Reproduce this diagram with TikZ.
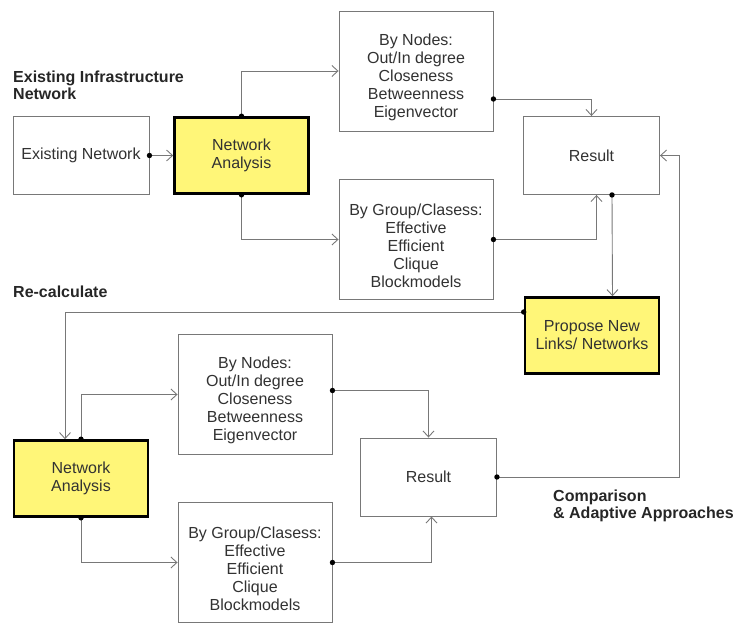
\documentclass[tikz,border=0pt]{standalone}
\usepackage{fontspec}
\setmainfont{Liberation Sans}
\usepackage{xcolor}
\usetikzlibrary{arrows.meta,positioning}
\definecolor{linegray}{RGB}{120,120,120}
\definecolor{textgray}{RGB}{50,50,50}
\definecolor{boxyellow}{RGB}{255,246,120}
\newcommand{\toppad}{\rule{0pt}{24pt}}

\begin{document}
\begin{tikzpicture}[x=1pt,y=-1pt,
    >={Straight Barb[length=6pt,width=11pt]},
    every node/.style={inner sep=0pt,font=\fontsize{16}{18}\selectfont,text=textgray,align=center},
    plainbox/.style={draw=linegray,line width=0.9pt,fill=white},
    smallbox/.style={plainbox,minimum width=136pt,minimum height=78pt},
    listbox/.style={plainbox,minimum width=154pt,minimum height=120pt},
    keybox/.style={draw=black,line width=2.6pt,fill=boxyellow,minimum width=134pt,minimum height=76pt},
    link/.style={draw=linegray,line width=0.9pt,->},
    heading/.style={font=\fontsize{16}{17}\selectfont\bfseries,text=black!85,align=left,anchor=base west}]
    \useasboundingbox (0,0) rectangle (734,624);
    % upper row
    \node [smallbox] (exist) at (81,155.5) {Existing Network};
    \node [keybox] (na1) at (241.5,155.5) {Network\\Analysis};
    \node [listbox] (nodes1) at (416,71) {\toppad By Nodes:\\Out/In degree\\Closeness\\Betweenness\\Eigenvector};
    \node [listbox] (group1) at (416,239.5) {\toppad By Group/Clasess:\\Effective\\Efficient\\Clique\\Blockmodels};
    \node [smallbox] (res1) at (591.5,155.5) {Result};
    \node [keybox] (prop) at (592,335.5) {Propose New\\Links/ Networks};
    % lower row
    \node [keybox] (na2) at (81,478.5) {Network\\Analysis};
    \node [listbox] (nodes2) at (255,394.5) {\toppad By Nodes:\\Out/In degree\\Closeness\\Betweenness\\Eigenvector};
    \node [listbox] (group2) at (255,562.5) {\toppad By Group/Clasess:\\Effective\\Efficient\\Clique\\Blockmodels};
    \node [smallbox] (res2) at (428.5,477) {Result};
    % headings
    \node [heading] (h1) at (13,99) {Existing Infrastructure\\Network};
    \node [heading] (h2) at (13,297) {Re-calculate};
    \node [heading] (h3) at (553,518) {Comparison\\\& Adaptive Approaches};
    % connectors
    \draw [link] (exist.east) -- (na1.west);
    \draw [link] (na1.north) |- (nodes1.west);
    \draw [link] (na1.south) |- (group1.west);
    \draw [link] ([yshift=-28pt]nodes1.east) -| (res1.north);
    \draw [link] (group1.east) -| ([xshift=5pt]res1.south);
    \draw [link] ([xshift=20.5pt]res1.south) -- ([xshift=20.5pt]prop.north);
    \draw [link] ([yshift=23.5pt]prop.west) -| ([xshift=-16pt]na2.north);
    \draw [link] (na2.north) |- (nodes2.west);
    \draw [link] (na2.south) |- (group2.west);
    \draw [link] ([yshift=4pt]nodes2.east) -| (res2.north);
    \draw [link] (group2.east) -| ([xshift=3pt]res2.south);
    \draw [link] (res2.east) -| ([xshift=19pt]res1.east) -- (res1.east);
    % dots
    \fill (exist.east) circle (2.7pt);
    \fill (na1.north) circle (2.7pt);
    \fill (na1.south) circle (2.7pt);
    \fill ([yshift=-28pt]nodes1.east) circle (2.7pt);
    \fill (group1.east) circle (2.7pt);
    \fill ([xshift=20.5pt]res1.south) circle (2.7pt);
    \fill ([yshift=23.5pt]prop.west) circle (2.7pt);
    \fill (na2.north) circle (2.7pt);
    \fill (na2.south) circle (2.7pt);
    \fill ([yshift=4pt]nodes2.east) circle (2.7pt);
    \fill (group2.east) circle (2.7pt);
    \fill (res2.east) circle (2.7pt);
\end{tikzpicture}
\end{document}
